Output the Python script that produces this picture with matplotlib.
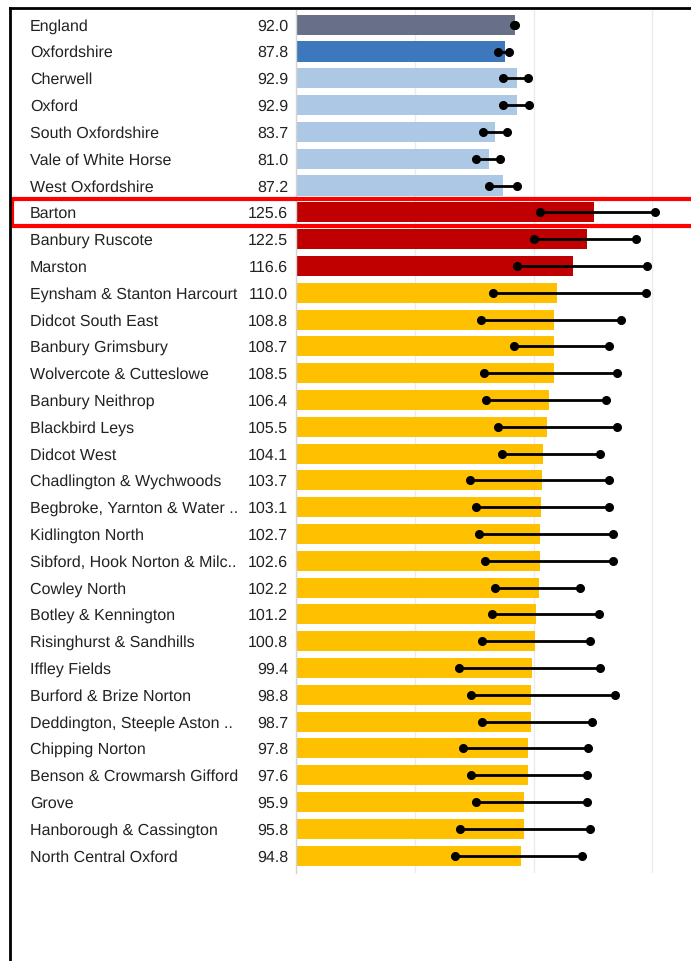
import numpy as np
import matplotlib.pyplot as plt
from matplotlib.lines import Line2D
from matplotlib.patches import Rectangle
import matplotlib.transforms as mtransforms

plt.rcParams['font.family'] = ['Liberation Sans', 'DejaVu Sans']
plt.rcParams['text.hinting'] = 'no_hinting'
plt.rcParams['text.hinting_factor'] = 1

# data
areas = ['England', 'Oxfordshire', 'Cherwell', 'Oxford', 'South Oxfordshire',
         'Vale of White Horse', 'West Oxfordshire', 'Barton', 'Banbury Ruscote',
         'Marston', 'Eynsham & Stanton Harcourt', 'Didcot South East',
         'Banbury Grimsbury', 'Wolvercote & Cutteslowe', 'Banbury Neithrop',
         'Blackbird Leys', 'Didcot West', 'Chadlington & Wychwoods',
         'Begbroke, Yarnton & Water ..', 'Kidlington North',
         'Sibford, Hook Norton & Milc..', 'Cowley North', 'Botley & Kennington',
         'Risinghurst & Sandhills', 'Iffley Fields', 'Burford & Brize Norton',
         'Deddington, Steeple Aston ..', 'Chipping Norton',
         'Benson & Crowmarsh Gifford', 'Grove', 'Hanborough & Cassington',
         'North Central Oxford']
values = [92.0, 87.8, 92.9, 92.9, 83.7, 81.0, 87.2, 125.6, 122.5, 116.6, 110.0,
          108.8, 108.7, 108.5, 106.4, 105.5, 104.1, 103.7, 103.1, 102.7, 102.6,
          102.2, 101.2, 100.8, 99.4, 98.8, 98.7, 97.8, 97.6, 95.9, 95.8, 94.8]
lower = [91.7, 85.1, 87.2, 87.2, 78.5, 75.6, 81.2, 102.8, 100.3, 92.9, 83.0,
         78.0, 91.6, 79.2, 79.9, 85.1, 86.5, 73.1, 75.9, 77.0, 79.5, 83.7,
         82.6, 78.4, 68.6, 73.5, 78.4, 70.1, 73.6, 75.7, 69.1, 66.8]
upper = [92.3, 89.8, 97.6, 98.1, 88.8, 85.8, 93.1, 151.2, 143.2, 147.7, 147.2,
         136.7, 131.6, 135.3, 130.6, 135.1, 127.9, 131.6, 131.6, 133.3, 133.6,
         119.4, 127.4, 123.8, 127.9, 134.4, 124.7, 123.0, 122.5, 122.5, 123.8,
         120.4]
groups = ['england', 'county'] + ['district'] * 5 + ['high'] * 3 + ['ward'] * 22
highlight = 'Barton'

colours = {'england': '#687089', 'county': '#3D78BC', 'district': '#ADC8E5',
           'high': '#C00000', 'ward': '#FFC000'}

W, H = 691, 961
fig = plt.figure(figsize=(W / 100, H / 100), dpi=100)
ax = fig.add_axes([296.3 / W, 1 - 873 / H, 1 - 296.3 / W, (873 - 10) / H])

y = np.arange(len(areas))
vals = np.array(values)
lo = np.array(lower)
hi = np.array(upper)

ax.barh(y, vals, height=0.75, color=[colours[g] for g in groups], zorder=2)
ax.errorbar(vals, y, xerr=[vals - lo, hi - vals], fmt='none', ecolor='black',
            elinewidth=2, capsize=0, zorder=3)
ax.plot(lo, y, 'o', color='black', ms=5.5, zorder=4)
ax.plot(hi, y, 'o', color='black', ms=5.5, zorder=4)

ax.set_xlim(0, (W - 296.3) / 2.373)
ax.set_ylim(len(areas) - 0.35, -0.55)
ax.set_xticks([0, 50, 100, 150])
ax.grid(axis='x', color='#EBEBEB', lw=1, zorder=0)
ax.tick_params(left=False, bottom=False, labelleft=False, labelbottom=False)
for s in ['top', 'right', 'bottom']:
    ax.spines[s].set_visible(False)
ax.spines['left'].set_color('#D4D4D4')
ax.spines['left'].set_linewidth(1)

# labels and value column
trans = mtransforms.blended_transform_factory(fig.transFigure, ax.transData)
for i, (name, v) in enumerate(zip(areas, values)):
    ax.text(30 / W, i, name, transform=trans, ha='left', va='center_baseline',
            fontsize=11.6, color='#222222', clip_on=False)
    ax.text(288 / W, i, f'{v:.1f}', transform=trans, ha='right',
            va='center_baseline', fontsize=11.6, color='#222222', clip_on=False)

# outer frame (left and top edges)
fig.add_artist(Line2D([10 / W, 10 / W], [0, 1 - 8 / H], color='black', lw=2))
fig.add_artist(Line2D([10 / W, 1], [1 - 8 / H, 1 - 8 / H], color='black', lw=2))

# red box around the highlighted ward
hy = areas.index(highlight)
ax.add_patch(Rectangle((12 / W, hy - 0.5), 1.0, 1.0, transform=trans,
                       fill=False, edgecolor='#FF0000', lw=3, clip_on=False,
                       zorder=5))

fig.savefig('out.png', dpi=100)
